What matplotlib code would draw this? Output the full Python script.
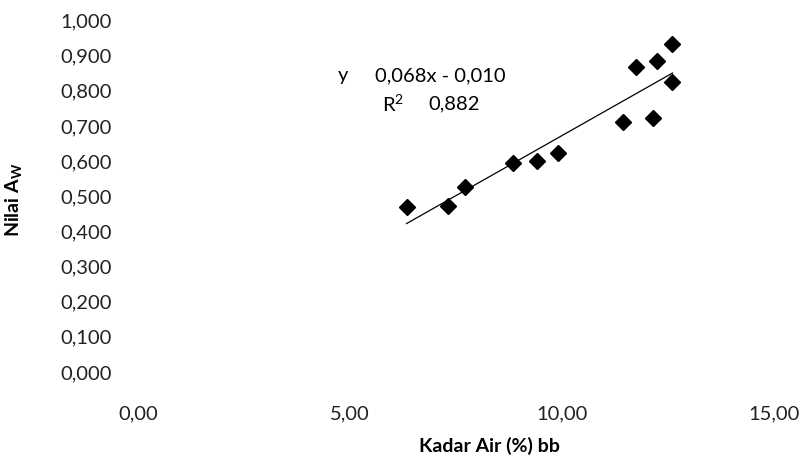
import numpy as np
import matplotlib
matplotlib.use('Agg')
import matplotlib.pyplot as plt

# data
kadar_air = [6.33, 7.32, 7.71, 8.84, 9.40, 9.91, 11.43, 12.14, 11.75, 12.25, 12.61, 12.59]
nilai_aw = [0.466, 0.469, 0.523, 0.592, 0.597, 0.620, 0.708, 0.719, 0.864, 0.883, 0.930, 0.821]
x_ticks = [0, 5, 10, 15]
y_ticks = [0.0, 0.1, 0.2, 0.3, 0.4, 0.5, 0.6, 0.7, 0.8, 0.9, 1.0]

plt.rcParams['font.family'] = ['Lato', 'DejaVu Sans']
W, H = 808, 456
fig = plt.figure(figsize=(W / 100, H / 100), dpi=100)
ax = fig.add_axes([138.5 / W, (H - 372) / H, (773.7 - 138.5) / W, 351.5 / H])

ax.plot(kadar_air, nilai_aw, 'D', color='black', markersize=8.5, clip_on=False)

# linear trend line
slope, icpt = np.polyfit(kadar_air, nilai_aw, 1)
xs = np.array([min(kadar_air), max(kadar_air)])
ax.plot(xs, slope * xs + icpt, color='black', lw=0.9)

ax.set_xlim(0, 15)
ax.set_ylim(0, 1)
ax.set_xticks(x_ticks)
ax.set_yticks(y_ticks)
ax.set_xticklabels([f'{v:.2f}'.replace('.', ',') for v in x_ticks])
ax.set_yticklabels([f'{v:.3f}'.replace('.', ',') for v in y_ticks])
for s in ax.spines.values():
    s.set_visible(False)
ax.tick_params(axis='both', length=0, labelsize=14.5, colors='#222222')
ax.tick_params(axis='y', pad=19)
ax.tick_params(axis='x', pad=24)

fig.text(489 / W, 1 - 446 / H, 'Kadar Air (%) bb', ha='center', va='center',
         fontsize=14, fontweight='bold')
fig.text(14 / W, 1 - 200 / H, r'Nilai A$_\mathregular{W}$', ha='center', va='center',
         rotation=90, fontsize=14, fontweight='bold')

fig.text(338 / W, 1 - 76 / H, 'y', ha='left', va='center', fontsize=14.5)
fig.text(375 / W, 1 - 76 / H, '0,068x - 0,010', ha='left', va='center', fontsize=14.5)
fig.text(382 / W, 1 - 104 / H, r'R$^\mathregular{2}$', ha='left', va='center', fontsize=14.5)
fig.text(428 / W, 1 - 104 / H, '0,882', ha='left', va='center', fontsize=14.5)

fig.savefig('out.png', dpi=100)
